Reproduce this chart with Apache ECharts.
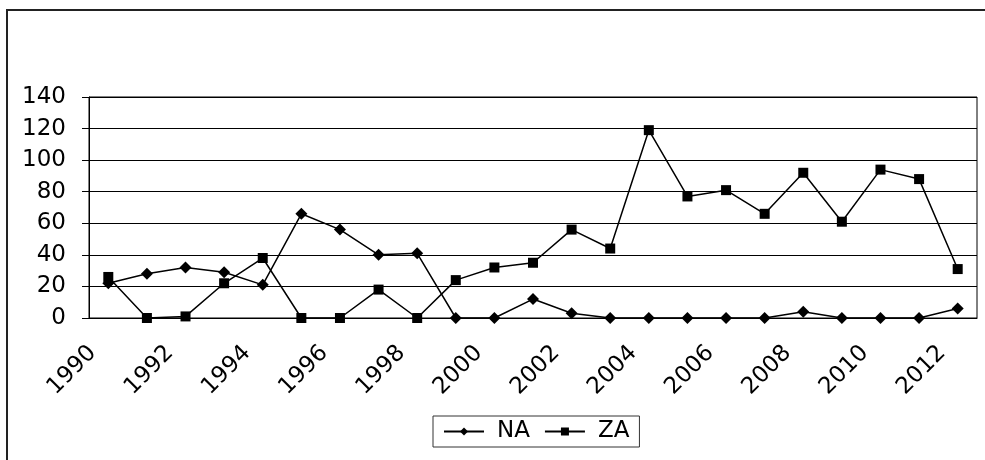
<!DOCTYPE html>
<html>
<head>
<meta charset="utf-8">
<script src="https://cdn.jsdelivr.net/npm/echarts@6/dist/echarts.min.js"></script>
<style>
  html, body { margin: 0; padding: 0; background: #fff; }
  #chart { width: 985px; height: 460px; }
</style>
</head>
<body>
<div id="chart"></div>
<script>
  // years on the category axis
  var years = ['1990', '1991', '1992', '1993', '1994', '1995', '1996', '1997', '1998', '1999', '2000', '2001',
    '2002', '2003', '2004', '2005', '2006', '2007', '2008', '2009', '2010', '2011', '2012']
  var naValues = [22, 28, 32, 29, 21, 66, 56, 40, 41, 0, 0, 12, 3, 0, 0, 0, 0, 0, 4, 0, 0, 0, 6]
  var zaValues = [26, 0, 1, 22, 38, 0, 0, 18, 0, 24, 32, 35, 56, 44, 119, 77, 81, 66, 92, 61, 94, 88, 31]

  var font = 'DejaVu Sans'
  var myChart = echarts.init(document.getElementById('chart'))
  var option = {
    animation: false,
    backgroundColor: '#fff',
    textStyle: { fontFamily: font, color: '#000' },
    graphic: [{
      type: 'rect',
      shape: { x: 7, y: 10, width: 1000, height: 500 },
      style: { fill: 'none', stroke: '#222', lineWidth: 2 },
      z: -1
    }],
    grid: {
      left: 89,
      right: 8,
      top: 97,
      bottom: 142,
      show: true,
      borderColor: '#000',
      borderWidth: 1
    },
    legend: {
      left: 433,
      top: 416,
      itemWidth: 40,
      itemHeight: 10,
      itemGap: 14,
      padding: [4, 10, 4, 10],
      borderColor: '#333',
      borderWidth: 1,
      borderRadius: 0,
      textStyle: { fontFamily: font, fontSize: 23, color: '#000', padding: [0, 0, 0, 8] },
      data: ['NA', 'ZA']
    },
    xAxis: {
      type: 'category',
      data: years,
      boundaryGap: true,
      axisLine: { lineStyle: { color: '#000', width: 1 } },
      axisTick: { interval: 0, length: 7, lineStyle: { color: '#000' } },
      axisLabel: {
        interval: 1,
        rotate: 45,
        margin: 16,
        padding: [0, 22, 0, 0],
        fontFamily: font,
        fontSize: 23,
        color: '#000'
      }
    },
    yAxis: {
      type: 'value',
      min: 0,
      max: 140,
      interval: 20,
      axisLine: { show: true, lineStyle: { color: '#000' } },
      axisTick: { show: true, length: 7, lineStyle: { color: '#000' } },
      axisLabel: { margin: 23, fontFamily: font, fontSize: 23, color: '#000' },
      splitLine: { lineStyle: { color: '#000', width: 1 } }
    },
    series: [
      {
        name: 'NA',
        type: 'line',
        data: naValues,
        symbol: 'diamond',
        symbolSize: 12,
        itemStyle: { color: '#000' },
        lineStyle: { color: '#000', width: 1.5 }
      },
      {
        name: 'ZA',
        type: 'line',
        data: zaValues,
        symbol: 'rect',
        symbolSize: 10,
        itemStyle: { color: '#000' },
        lineStyle: { color: '#000', width: 1.5 }
      }
    ]
  }
  myChart.setOption(option)
</script>
</body>
</html>
